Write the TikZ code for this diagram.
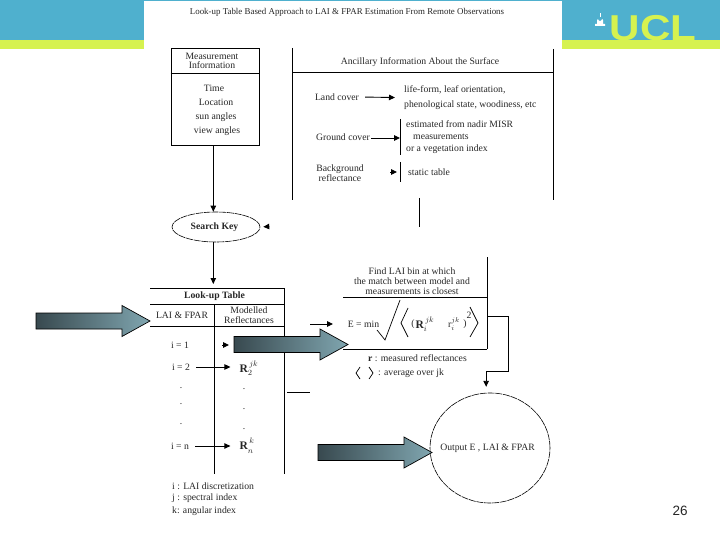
\documentclass[tikz,border=0pt]{standalone}
\usepackage{amsmath, amssymb}
\usepackage{fontspec}
\setmainfont{Liberation Serif}
\newfontfamily\bandfont{Liberation Sans}
\usepackage{xcolor}
\definecolor{cBand}{HTML}{4FB0CE}
\definecolor{cLime}{HTML}{D6F250}
\definecolor{cArrowL}{HTML}{38494F}
\definecolor{cArrowR}{HTML}{80A6B0}
\newcommand{\figfont}{\fontsize{9.7}{9.7}\selectfont}
\newcommand{\mathfont}{\fontsize{11.5}{12}\selectfont}
\usepackage{tikz}
\usetikzlibrary{positioning, arrows.meta, shapes.geometric}

\begin{document}
\begin{tikzpicture}[
    x=1pt, y=-1pt,
    lbl/.style={inner sep=0pt, align=center, font=\figfont, text=black!85},
    lblleft/.style={lbl, anchor=west, align=left},
    mathlbl/.style={inner sep=0pt, font=\mathfont, text=black!85},
    rule/.style={line width=0.9pt},
    arr/.style={-{Triangle[length=6pt, width=5.5pt]}, line width=0.9pt},
    ring/.style={draw, ellipse, inner sep=0pt, line width=0.6pt,
                 dash pattern=on 7pt off 0.8pt},
    bigarrow/.style={draw=black, line width=0.7pt, left color=cArrowL, right color=cArrowR}
]
\useasboundingbox (0,0) rectangle (720,540);
% page band
\fill[cBand] (0,0) rectangle (720,40);
\fill[cLime] (0,40) rectangle (720,49);
\fill[white] (144,1) rectangle (562,49);
\node[anchor=base west, inner sep=0pt, xscale=1.17, font=\bandfont\bfseries\fontsize{36}{36}\selectfont, text=cLime] (ucl) at (609.5,41) {UCL};
\fill[white] (595,26) -- (595,24) -- (597,24) -- (597,20) -- (598,19) arc[start angle=180, end angle=0, radius=2] -- (603,20) -- (603,24) -- (605,24) -- (605,26) -- cycle;
\fill[white] (599.5,13) rectangle (600.5,17);
\node[inner sep=0pt, font=\bandfont\fontsize{13.5}{14}\selectfont, text=black!85] (pageno) at (680,511) {26};

\node[lbl, font=\fontsize{8.9}{9}\selectfont] (title) at (347,12) {Look-up Table Based Approach to LAI \& FPAR Estimation From Remote Observations};

% measurement box
\node[draw, rule, minimum width=88, minimum height=97, inner sep=0pt] (meas) at (215,96.5) {};
\draw[rule] (meas.west |- 0,73) -- (meas.east |- 0,73);
\node[lbl] (measHead) at (212,61) {Measurement\\Information};
\node[lbl] (time) at (214,88) {Time};
\node[lbl] (location) at (216,102) {Location};
\node[lbl] (sunang) at (216,117) {sun angles};
\node[lbl] (viewang) at (217,131) {view angles};

% ancillary box
\draw[rule] (292,48) -- (292,200);
\draw[rule] (553,49) -- (553,200);
\draw[rule] (292,72.5) -- (553,72.5);
\draw[rule] (419,198) -- (419,227);
\node[lbl] (ancHead) at (420,62) {Ancillary Information About the Surface};
\node[lbl] (land) at (337,97) {Land cover};
\node[lblleft] (lifeform) at (404,90) {life-form, leaf orientation,};
\node[lblleft] (phenol) at (404,105) {phenological state, woodiness, etc};
\coordinate (landEnd) at (395,97.5);
\draw[arr, shorten <=6pt] (land.east) -- (landEnd);
\node[lbl] (ground) at (343,137) {Ground cover};
\coordinate (groundBarT) at (400,119);
\coordinate (groundBarB) at (400,155);
\coordinate (groundEnd) at (400,138);
\draw[rule] (groundBarT) -- (groundBarB);
\draw[arr, shorten <=1pt] (ground.east |- groundEnd) -- (groundEnd);
\node[lblleft] (nadir) at (406,124) {estimated from nadir MISR};
\node[lblleft] (meastxt) at (413,137) {measurements};
\node[lblleft] (vegidx) at (406,149) {or a vegetation index};
\node[lbl] (backgr) at (340,173.5) {Background\\reflectance};
\coordinate (backA) at (390,172);
\coordinate (backB) at (397,172);
\draw[arr] (backA) -- (backB);
\draw[rule] (400,162) -- (400,182);
\node[lblleft] (statictxt) at (408,172) {static table};

% search key
\node[ring, minimum width=88, minimum height=30] (search) at (216,227) {};
\node[lbl] (searchtxt) at (214.5,227) {\textbf{Search Key}};
\coordinate (searchIn) at (269,226.5);
\draw[arr] (search.100 |- meas.south) -- (search.100);
\draw[arr, shorten >=3pt] (searchIn) -- (search.east);

% look-up table
\draw[rule] (150,288) -- (284.5,288);
\draw[rule] (150,304) -- (284.5,304);
\draw[rule] (150,326) -- (284.5,326);
\draw[rule] (284.5,288) -- (284.5,474);
\draw[rule] (214,304) -- (214,474);
\coordinate (tabIn) at (214,284);
\draw[arr] (search.260) -- (search.260 |- tabIn);
\node[lbl] (tabHead) at (214.5,296) {\textbf{Look-up Table}};
\node[lbl] (laifpar) at (182,315) {LAI \& FPAR};
\node[lbl] (modelled) at (249,315) {Modelled\\Reflectances};
\node[lbl] (rowA) at (180,345) {i = 1};
\node[lbl] (rowB) at (181,367) {i = 2};
\node[lbl] (rowN) at (180,446) {i = n};
\node[mathlbl] (RA) at (249,345) {$\mathbf{R}_1^{\,jk}$};
\node[mathlbl] (RB) at (249,368) {$\mathbf{R}_2^{\,jk}$};
\node[mathlbl] (RN) at (247,446) {$\mathbf{R}_{\raisebox{-1.5pt}{$\scriptstyle n$}}^{\,\raisebox{1.5pt}{$\scriptstyle k$}}$};
\coordinate (rowAa) at (222,345);
\coordinate (rowAb) at (229,345);
\draw[arr] (rowAa) -- (rowAb);
\draw[arr, shorten <=6pt, shorten >=9pt] (rowB.east) -- (RB.west |- rowB.east);
\draw[arr, shorten <=6pt, shorten >=9pt] (rowN.east) -- (RN.west |- rowN.east);
\foreach \yy [count=\n] in {388,404,424}
    \node[lbl] (dotL\n) at (181,\yy) {.};
\foreach \yy [count=\n] in {389,409,429}
    \node[lbl] (dotR\n) at (244,\yy) {.};
\draw[rule] (287,392) -- (310,392);
\node[lblleft] (legI) at (172,486) {i : LAI discretization};
\node[lblleft] (legJ) at (172,498) {j : spectral index};
\node[lblleft] (legK) at (172,511) {k: angular index};

% matching box
\draw[rule] (487,257) -- (487,349);
\draw[rule] (343,297) -- (487,297);
\draw[rule] (343,349) -- (487,349);
\node[lbl] (findtxt) at (412,281) {Find LAI bin at which\\the match between model and\\measurements is closest};
\node[lbl] (emin) at (363.5,324) {E = min};
\draw[line width=0.7pt] (377,330) -- (385,340) -- (400,300);
\draw[line width=0.7pt] (408,308) -- (401,323) -- (408,337);
\draw[line width=0.7pt] (470,307) -- (478,323) -- (470,337);
\node[lbl] (parL) at (413,324) {(};
\node[mathlbl] (Rij) at (425,324) {$\mathbf{R}_i^{\,jk}$};
\node[lbl] (rmeas) at (454,324) {r$_i^{jk}$};
\node[lbl] (parR) at (465,324) {)};
\node[lbl] (two) at (469,315) {2};
\coordinate (tabOut) at (310,324);
\coordinate (eqIn) at (333,324);
\draw[arr] (tabOut) -- (eqIn);
\node[lblleft] (rtxt) at (368,358) {\textbf{r} : measured reflectances};
\draw[line width=0.7pt] (360,367) -- (356,373) -- (360,379);
\draw[line width=0.7pt] (369,367) -- (373,373) -- (369,379);
\node[lblleft] (avgtxt) at (378,373) {: average over jk};

% output
\node[ring, minimum width=120, minimum height=110] (output) at (490,448) {};
\node[lbl] (outtxt) at (487.5,448) {Output E , LAI \& FPAR};
\coordinate (matchOut) at (487,316);
\coordinate (bendOut) at (508,371);
\draw[arr, shorten >=6pt] (matchOut) -| (bendOut) -| (output.94);

% slide arrows on top
\foreach \ax/\ay in {36/321, 234/344.5, 318/452.5}
    \draw[bigarrow] (\ax,\ay-8) -- ++(86,0) -- ++(0,-7.5) -- ++(28,15.5) -- ++(-28,15.5) -- ++(0,-7.5) -- ++(-86,0) -- cycle;
\end{tikzpicture}
\end{document}
